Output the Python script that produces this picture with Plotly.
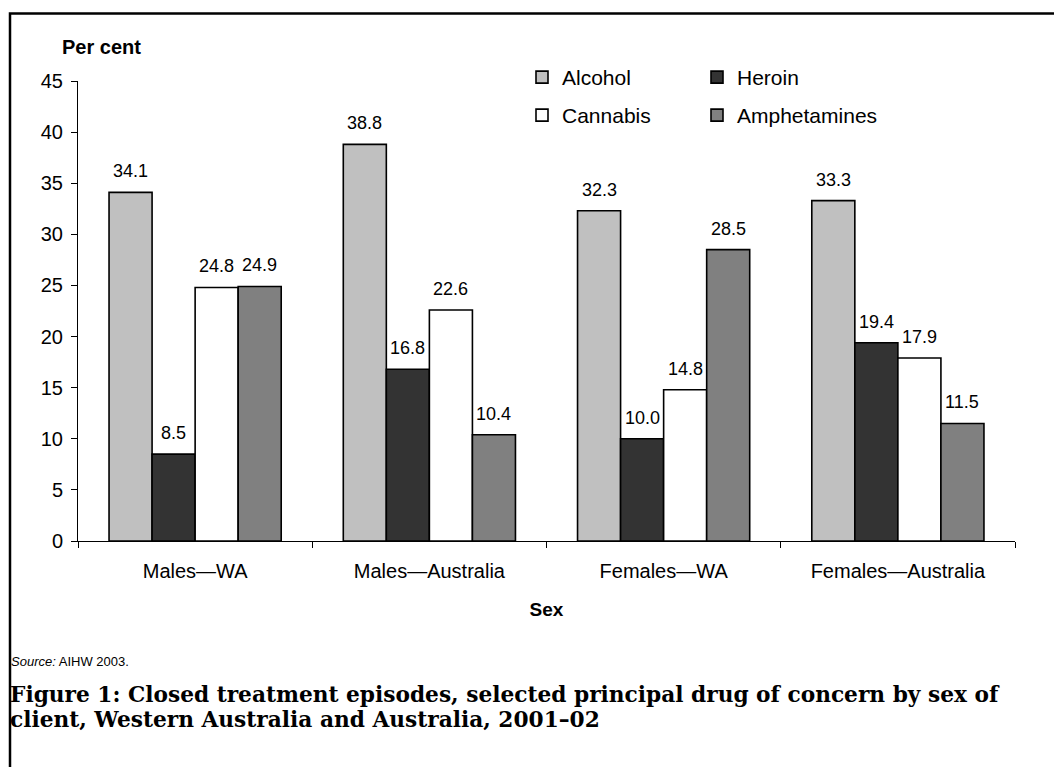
import plotly.graph_objects as go

categories = ["Males—WA", "Males—Australia", "Females—WA", "Females—Australia"]
series_names = ["Alcohol", "Heroin", "Cannabis", "Amphetamines"]
alcohol = [34.1, 38.8, 32.3, 33.3]
heroin = [8.5, 16.8, 10.0, 19.4]
cannabis = [24.8, 22.6, 14.8, 17.9]
amphetamines = [24.9, 10.4, 28.5, 11.5]
y_ticks = [0, 5, 10, 15, 20, 25, 30, 35, 40, 45]

series_values = [alcohol, heroin, cannabis, amphetamines]
colors = ["#C0C0C0", "#333333", "#FFFFFF", "#808080"]
legend_ids = ["legend", "legend2", "legend3", "legend4"]

FONT = "Liberation Sans, Arial, sans-serif"
BARGAP = 0.265

# the page adds an 8px body margin; work in screen coordinates and compensate
OFF = 8
W, H = 1062 - OFF, 767 - OFF
L = 78 - OFF
T = 80.5 - OFF
R = W - (1015 - OFF)
B = H - (541 - OFF)
pw, ph = W - L - R, H - T - B


def px(x):
    return (x - OFF - L) / pw


def py(y):
    return (H - B - (y - OFF)) / ph


fig = go.Figure()
for name, vals, col, lg in zip(series_names, series_values, colors, legend_ids):
    fig.add_trace(go.Bar(
        name=name, x=categories, y=vals,
        marker=dict(color=col, line=dict(color="black", width=1.6)),
        legend=lg, hoverinfo="x+y+name",
    ))

# data labels above each bar
n = len(series_names)
bw = (1 - BARGAP) / n
annotations = []
for j, vals in enumerate(series_values):
    off = -(1 - BARGAP) / 2 + (j + 0.5) * bw
    for i, v in enumerate(vals):
        annotations.append(dict(
            x=i + off, y=v, xref="x", yref="y", text=f"{v:.1f}",
            showarrow=False, yanchor="middle", yshift=21,
            font=dict(family=FONT, size=18, color="black"),
        ))

annotations += [
    dict(x=px(60), y=py(46), xref="paper", yref="paper", text="<b>Per cent</b>",
         showarrow=False, xanchor="left", yanchor="middle",
         font=dict(family=FONT, size=20, color="black")),
    dict(x=px(9), y=py(662), xref="paper", yref="paper",
         text="<i>Source:</i> AIHW 2003.", showarrow=False,
         xanchor="left", yanchor="middle",
         font=dict(family=FONT, size=13, color="black")),
    dict(x=px(8), y=py(695), xref="paper", yref="paper",
         text="<b>Figure 1: Closed treatment episodes, selected principal drug of concern by sex of</b>",
         showarrow=False, xanchor="left", yanchor="middle", align="left",
         font=dict(family="DejaVu Serif, serif", size=21.7, color="black")),
    dict(x=px(8), y=py(720), xref="paper", yref="paper",
         text="<b>client, Western Australia and Australia, 2001–02</b>",
         showarrow=False, xanchor="left", yanchor="middle", align="left",
         font=dict(family="DejaVu Serif, serif", size=21.7, color="black")),
]

legend_common = dict(orientation="h", xanchor="left", yanchor="middle",
                     font=dict(family=FONT, size=21, color="black"),
                     bgcolor="rgba(0,0,0,0)")

fig.update_layout(
    width=W, height=H,
    margin=dict(l=L, r=R, t=T, b=B, autoexpand=False),
    paper_bgcolor="white", plot_bgcolor="white",
    barmode="group", bargap=BARGAP, bargroupgap=0,
    font=dict(family=FONT, size=20, color="black"),
    annotations=annotations,
    legend=dict(x=px(522), y=py(77), **legend_common),
    legend2=dict(x=px(697), y=py(77), **legend_common),
    legend3=dict(x=px(522), y=py(115), **legend_common),
    legend4=dict(x=px(697), y=py(115), **legend_common),
    shapes=[dict(type="rect", xref="paper", yref="paper",
                 x0=px(10), x1=px(1100), y0=py(820), y1=py(13),
                 line=dict(color="black", width=2.5), fillcolor="rgba(0,0,0,0)", layer="below")],
    showlegend=True,
)
fig.update_xaxes(
    showline=True, linecolor="black", linewidth=1,
    ticks="outside", tickson="boundaries", ticklen=6, tickcolor="black",
    showgrid=False, tickfont=dict(family=FONT, size=20), ticklabelstandoff=12,
    title=dict(text="<b>Sex</b>", standoff=21, font=dict(family=FONT, size=19)),
)
fig.update_yaxes(
    range=[0, 45], tickvals=y_ticks, showline=True, linecolor="black", linewidth=1,
    ticks="outside", ticklen=6, tickcolor="black", showgrid=False, zeroline=False,
    tickfont=dict(family=FONT, size=20), ticklabelstandoff=4,
)

fig.write_html("out.html")
